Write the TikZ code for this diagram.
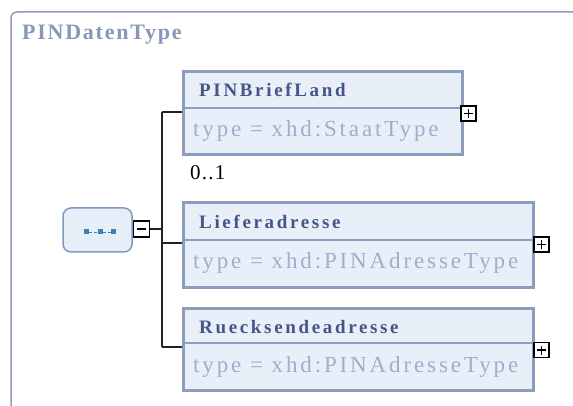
\documentclass[tikz,border=0pt]{standalone}
\usepackage{fontspec}
\setmainfont{Liberation Serif}
\newfontfamily\titlefont[LetterSpace=8]{Liberation Serif Bold}
\newfontfamily\namefont[LetterSpace=14]{Liberation Serif Bold}
\newfontfamily\typefont[LetterSpace=12.5]{Liberation Serif}
\newfontfamily\cardfont[LetterSpace=6]{Liberation Serif}
\definecolor{frameC}{HTML}{8C9CBC}
\definecolor{boxFill}{HTML}{E9EFF9}
\definecolor{boxLine}{HTML}{8E9DBE}
\definecolor{nameC}{HTML}{44558A}
\definecolor{typeC}{HTML}{A0AECB}
\definecolor{titleC}{HTML}{8797B8}
\definecolor{seqFill}{HTML}{E6EEF8}
\definecolor{seqLine}{HTML}{7F9AC0}
\definecolor{iconC}{HTML}{3B82B8}
\definecolor{conC}{HTML}{222222}
\begin{document}
\begin{tikzpicture}[x=1pt,y=-1pt,
  elembox/.style={draw=boxLine,line width=3pt,fill=boxFill},
  divline/.style={draw=boxLine,line width=2pt},
  namet/.style={anchor=base west,inner sep=0pt,text=nameC,font=\namefont\fontsize{19}{19}\selectfont},
  typet/.style={anchor=base west,inner sep=0pt,text=typeC,font=\typefont\fontsize{23}{23}\selectfont},
  pmbox/.style={draw=black,line width=1.5pt,fill=white,minimum size=15pt,inner sep=0pt},
  con/.style={draw=conC,line width=1.5pt}]
\useasboundingbox (0,0) rectangle (573,406);
% outer frame
\draw[frameC,line width=1.5pt,rounded corners=6pt] (11,406) -- (11,12) -- (573,12);
\node[anchor=base west,inner sep=0pt,text=titleC,font=\titlefont\fontsize{22}{22}\selectfont] (title) at (22,40) {PINDatenType};
% sequence node
\node[draw=seqLine,line width=1.5pt,fill=seqFill,rounded corners=8pt,minimum width=69pt,minimum height=44pt,inner sep=0pt] (seq) at (97.5,230) {};
\foreach \i/\xx in {a/86.5,b/100,c/113.5}{
  \node[fill=iconC,minimum size=5pt,inner sep=0pt] (ic\i) at (\xx,232) {};
}
\draw[iconC,line width=0.8pt,densely dashed] (ica) -- (icb);
\draw[iconC,line width=0.8pt,densely dashed] (icb) -- (icc);
\node[pmbox,minimum size=16pt] (minus) at (141.5,229) {};
\draw[line width=1.5pt] ([xshift=-4.5pt]minus.center) -- ([xshift=4.5pt]minus.center);
\coordinate (jn) at (162,229);
\coordinate (t1) at (162,112);
\coordinate (t3) at (162,347);
\coordinate (t2) at (162,243);
\draw[con] (minus.east) -- (jn);
\draw[con] (t1) -- (t3);
% box 1
\node[elembox,minimum width=279pt,minimum height=83pt,inner sep=0pt] (b1) at (322.5,113.5) {};
\draw[divline] (b1.west |- 0,108) -- (b1.east |- 0,108);
\node[namet] (n1) at (199,97) {PINBriefLand};
\node[typet] (y1) at (193,137) {type = xhd:StaatType};
\node[pmbox] (p1) at (468.5,113.5) {};
\node[anchor=base west,inner sep=0pt,font=\cardfont\fontsize{21}{21}\selectfont] (card) at (190,180) {0..1};
% box 2
\node[elembox,minimum width=350pt,minimum height=84pt,inner sep=0pt] (b2) at (358,245) {};
\draw[divline] (b2.west |- 0,240) -- (b2.east |- 0,240);
\node[namet] (n2) at (199,229) {Lieferadresse};
\node[typet] (y2) at (193,269) {type = xhd:PINAdresseType};
\node[pmbox] (p2) at (541.5,244.5) {};
% box 3
\node[elembox,minimum width=350pt,minimum height=82pt,inner sep=0pt] (b3) at (358,349) {};
\draw[divline] (b3.west |- 0,343) -- (b3.east |- 0,343);
\node[namet] (n3) at (199,333) {Ruecksendeadresse};
\node[typet] (y3) at (193,372) {type = xhd:PINAdresseType};
\node[pmbox] (p3) at (541.5,350) {};
% plus signs
\foreach \p in {p1,p2,p3}{
  \draw[line width=1.5pt] ([xshift=-4.5pt]\p.center) -- ([xshift=4.5pt]\p.center);
  \draw[line width=1.5pt] ([yshift=-4.5pt]\p.center) -- ([yshift=4.5pt]\p.center);
}
% branches
\draw[con] (t1) -- (b1.west |- t1);
\draw[con] (t2) -- (b2.west |- t2);
\draw[con] (t3) -- (b3.west |- t3);
\end{tikzpicture}
\end{document}
